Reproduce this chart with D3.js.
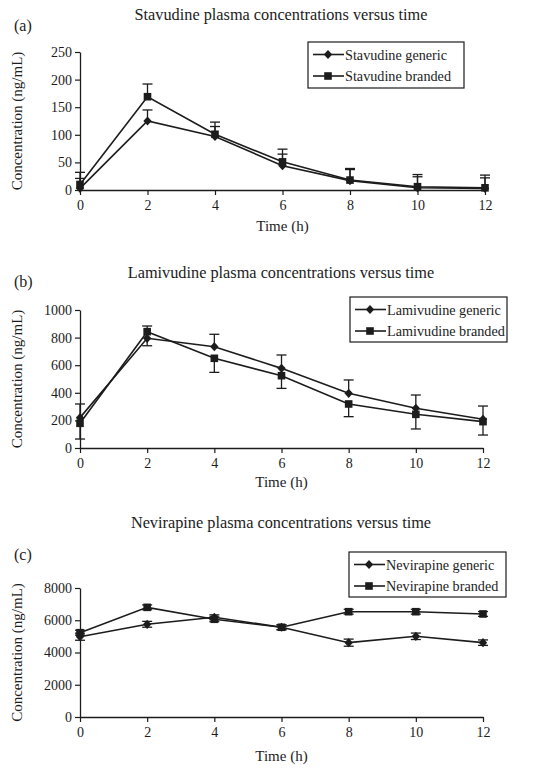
<!DOCTYPE html>
<html><head><meta charset="utf-8">
<script src="https://cdn.jsdelivr.net/npm/d3@7"></script>
<style>
body{margin:0;background:#fff}
svg{display:block}
text{font-family:"Liberation Serif","Times New Roman",serif;fill:#1c1c1c}
</style>
</head><body>
<svg id="chart" width="533" height="773"></svg>
<script>
// ---------- DATA ----------
const times = [0, 2, 4, 6, 8, 10, 12];
const xTicks = [0, 2, 4, 6, 8, 10, 12];

const stavNames = ["Stavudine generic", "Stavudine branded"];
const stavGeneric = [3, 125, 97, 44, 17, 4, 3];
const stavGenericErrUp = [18, 20, 18, 21, 20, 20, 19];
const stavBranded = [10, 169, 101, 51, 18, 6, 4];
const stavBrandedErrUp = [22, 23, 22, 23, 21, 22, 23];
const stavTicks = [0, 50, 100, 150, 200, 250];

const lamiNames = ["Lamivudine generic", "Lamivudine branded"];
const lamiGeneric = [220, 795, 734, 577, 396, 288, 208];
const lamiGenericErrUp = [99, 89, 90, 97, 97, 96, 96];
const lamiBranded = [179, 843, 650, 524, 319, 244, 191];
const lamiBrandedErrDown = [114, 102, 102, 92, 92, 106, 97];
const lamiTicks = [0, 200, 400, 600, 800, 1000];

const neviNames = ["Nevirapine generic", "Nevirapine branded"];
const neviGeneric = [4980, 5750, 6185, 5565, 4610, 5005, 4610];
const neviGenericErr = [220, 180, 150, 150, 220, 200, 170];
const neviBranded = [5230, 6800, 6060, 5565, 6530, 6530, 6390];
const neviBrandedErr = [150, 150, 150, 150, 150, 150, 150];
const neviTicks = [0, 2000, 4000, 6000, 8000];

const titles = ["Stavudine plasma concentrations versus time",
                "Lamivudine plasma concentrations versus time",
                "Nevirapine plasma concentrations versus time"];
const panelLabels = ["(a)", "(b)", "(c)"];
const yLabel = "Concentration (ng/mL)";
const xLabel = "Time (h)";

// ---------- DRAWING ----------
const svg = d3.select("#chart");
const INK = "#1c1c1c";
const SERIF = '"Liberation Serif","Times New Roman",serif';

function markerPath(kind) {
  if (kind === "diamond") return "M0,-4.6L4.2,0L0,4.6L-4.2,0Z";
  return "M-3.8,-3.8H3.8V3.8H-3.8Z";
}

function drawPanel(cfg) {
  const g = svg.append("g");
  const x = d3.scaleLinear().domain([0, 12]).range([cfg.x0, cfg.x1]);
  const y = d3.scaleLinear().domain([0, cfg.ticks[cfg.ticks.length - 1]]).range([cfg.yb, cfg.yt]);

  // title & panel label
  g.append("text").attr("x", 281).attr("y", cfg.titleY).attr("text-anchor", "middle")
    .attr("font-size", 16.3).text(cfg.title);
  g.append("text").attr("x", 14).attr("y", cfg.labelY).attr("font-size", 16).text(cfg.label);

  // axes
  const xa = g.append("g").attr("transform", `translate(0,${cfg.yb})`)
    .call(d3.axisBottom(x).tickValues(xTicks).tickFormat(d3.format("d"))
      .tickSize(5).tickSizeOuter(0).tickPadding(5));
  const ya = g.append("g").attr("transform", `translate(${cfg.x0},0)`)
    .call(d3.axisLeft(y).tickValues(cfg.ticks).tickFormat(d3.format("d"))
      .tickSize(5).tickSizeOuter(0).tickPadding(3));
  [xa, ya].forEach(a => {
    a.attr("font-family", null).attr("font-size", null);
    a.select(".domain").attr("stroke", INK).attr("stroke-width", 1.3);
    a.selectAll(".tick line").attr("stroke", INK).attr("stroke-width", 1.2);
    a.selectAll(".tick text").attr("fill", INK).attr("font-size", 14)
      .style("font-family", SERIF);
  });

  // axis titles
  g.append("text").attr("x", (cfg.x0 + cfg.x1) / 2).attr("y", cfg.xLabelY).attr("text-anchor", "middle")
    .attr("font-size", 15).text(xLabel);
  g.append("text").attr("transform", `translate(22,${(cfg.yb + cfg.yt) / 2}) rotate(-90)`)
    .attr("text-anchor", "middle").attr("font-size", 15).text(yLabel);

  // series
  const line = d3.line().x(d => x(d[0])).y(d => y(d[1]));
  cfg.series.forEach(s => {
    const pts = times.map((t, i) => [t, s.values[i]]);
    const eg = g.append("g").attr("stroke", INK).attr("stroke-width", 1.3);
    pts.forEach((p, i) => {
      const up = s.errUp ? s.errUp[i] : 0;
      const dn = s.errDown ? s.errDown[i] : 0;
      const top = y(p[1] + up), bot = y(Math.max(0, p[1] - dn));
      eg.append("line").attr("x1", x(p[0])).attr("x2", x(p[0])).attr("y1", top).attr("y2", bot);
      if (up) eg.append("line").attr("x1", x(p[0]) - 5).attr("x2", x(p[0]) + 5).attr("y1", top).attr("y2", top);
      if (dn) eg.append("line").attr("x1", x(p[0]) - 5).attr("x2", x(p[0]) + 5).attr("y1", bot).attr("y2", bot);
    });
    g.append("path").datum(pts).attr("d", line).attr("fill", "none")
      .attr("stroke", INK).attr("stroke-width", 1.6);
    g.selectAll(null).data(pts).enter().append("path")
      .attr("d", markerPath(s.marker))
      .attr("transform", d => `translate(${x(d[0])},${y(d[1])})`)
      .attr("fill", INK);
  });

  // legend
  const L = cfg.legend;
  g.append("rect").attr("x", L.x).attr("y", L.y).attr("width", L.w).attr("height", L.h)
    .attr("fill", "#fff").attr("stroke", INK).attr("stroke-width", 1.2);
  cfg.series.forEach((s, i) => {
    const ry = L.y + 12.5 + i * 21.5;
    g.append("line").attr("x1", L.x + 5).attr("x2", L.x + 36).attr("y1", ry).attr("y2", ry)
      .attr("stroke", INK).attr("stroke-width", 1.6);
    g.append("path").attr("d", markerPath(s.marker)).attr("transform", `translate(${L.x + 20},${ry})`)
      .attr("fill", INK);
    g.append("text").attr("x", L.x + 37).attr("y", ry + 5).attr("font-size", 14.2).text(cfg.names[i]);
  });
}

drawPanel({
  title: titles[0], label: panelLabels[0], titleY: 20, labelY: 31,
  x0: 80, x1: 485, yt: 52, yb: 190, xLabelY: 231, ticks: stavTicks, names: stavNames,
  legend: {x: 308, y: 42, w: 156, h: 46},
  series: [
    {values: stavGeneric, errUp: stavGenericErrUp, marker: "diamond"},
    {values: stavBranded, errUp: stavBrandedErrUp, marker: "square"}
  ]
});
drawPanel({
  title: titles[1], label: panelLabels[1], titleY: 278, labelY: 287,
  x0: 80, x1: 483, yt: 310, yb: 448, xLabelY: 487, ticks: lamiTicks, names: lamiNames,
  legend: {x: 350, y: 297, w: 157, h: 45},
  series: [
    {values: lamiGeneric, errUp: lamiGenericErrUp, marker: "diamond"},
    {values: lamiBranded, errDown: lamiBrandedErrDown, marker: "square"}
  ]
});
drawPanel({
  title: titles[2], label: panelLabels[2], titleY: 528, labelY: 560,
  x0: 80, x1: 483, yt: 588, yb: 717, xLabelY: 761, ticks: neviTicks, names: neviNames,
  legend: {x: 349, y: 552, w: 157, h: 45},
  series: [
    {values: neviGeneric, errUp: neviGenericErr, errDown: neviGenericErr, marker: "diamond"},
    {values: neviBranded, errUp: neviBrandedErr, errDown: neviBrandedErr, marker: "square"}
  ]
});
</script>
</body></html>
